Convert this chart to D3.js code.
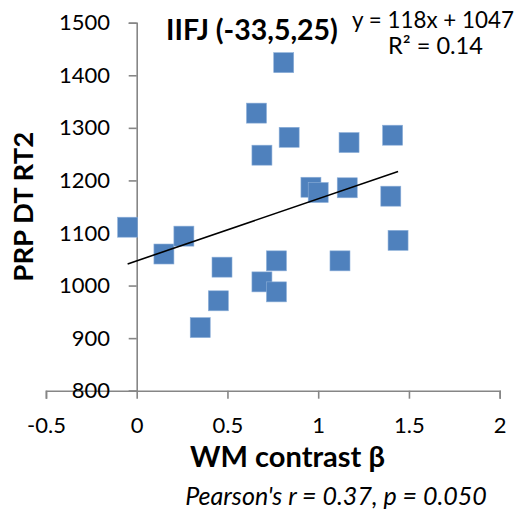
<!DOCTYPE html>
<html>
<head>
<meta charset="utf-8">
<script src="https://cdn.jsdelivr.net/npm/d3@7"></script>
<style>
  html, body { margin: 0; padding: 0; background: #fff; }
  svg { display: block; }
  text { font-family: Lato, "Open Sans", sans-serif; fill: #000; }
</style>
</head>
<body>
<svg id="chart" width="523" height="515"></svg>
<script>
// ---- data ----
const xValues = [-0.05, 0.15, 0.26, 0.35, 0.45, 0.47, 0.66, 0.69, 0.69, 0.77, 0.77, 0.81, 0.84, 0.96, 1.00, 1.12, 1.17, 1.16, 1.40, 1.41, 1.44];
const yValues = [1111, 1060, 1094, 920, 971, 1035, 1328, 1248, 1007, 988, 1047, 1424, 1282, 1187, 1177, 1047, 1272, 1186, 1170, 1286, 1086];
const xTicks = [-0.5, 0, 0.5, 1, 1.5, 2];
const yTicks = [800, 900, 1000, 1100, 1200, 1300, 1400, 1500];
const trendSlope = 118;
const trendIntercept = 1047;
const chartTitle = "IIFJ (-33,5,25)";
const equationText = "y = 118x + 1047";
const r2Text = "R² = 0.14";
const xTitle = "WM contrast β";
const yTitle = "PRP DT RT2";
const noteText = "Pearson's r = 0.37, p = 0.050";

// ---- layout ----
const svg = d3.select("#chart");
const x = d3.scaleLinear().domain([-0.5, 2]).range([45.95, 499.7]);
const y = d3.scaleLinear().domain([800, 1500]).range([390.7, 22.7]);
const axisColor = "#868686";

const gx = svg.append("g")
  .attr("transform", `translate(0,${y(800)})`)
  .call(d3.axisBottom(x).tickValues(xTicks).tickSize(8).tickPadding(18.7)
        .tickFormat(d => String(d)));
const gy = svg.append("g")
  .attr("transform", `translate(${x(0)},0)`)
  .call(d3.axisLeft(y).tickValues(yTicks).tickSize(8).tickPadding(18.7)
        .tickFormat(d => String(d)));

[gx, gy].forEach(g => {
  g.select(".domain").attr("stroke", axisColor).attr("stroke-width", 1.6);
  g.selectAll(".tick line").attr("stroke", axisColor).attr("stroke-width", 1.6);
  g.selectAll(".tick text").attr("font-size", 22).attr("font-family", "Lato, sans-serif").attr("fill", "#000");
});

// markers
const size = 20;
svg.append("g").selectAll("rect")
  .data(xValues.map((v, i) => [v, yValues[i]]))
  .join("rect")
  .attr("x", d => x(d[0]) - size / 2)
  .attr("y", d => y(d[1]) - size / 2)
  .attr("width", size).attr("height", size)
  .attr("fill", "#4F81BD")
  .attr("stroke", "#8eb0d9").attr("stroke-width", 0.6);

// trendline
const xMin = d3.min(xValues), xMax = d3.max(xValues);
svg.append("line")
  .attr("x1", x(xMin)).attr("y1", y(trendSlope * xMin + trendIntercept))
  .attr("x2", x(xMax)).attr("y2", y(trendSlope * xMax + trendIntercept))
  .attr("stroke", "#000").attr("stroke-width", 1.6);

// texts, font size fitted to the reference widths
function fit(sel, target, base) {
  sel.attr("font-size", base);
  const w = sel.node().getComputedTextLength();
  if (w > 0) sel.attr("font-size", base * target / w);
  return sel;
}
fit(svg.append("text").text(chartTitle)
  .attr("x", 252).attr("y", 39.5).attr("text-anchor", "middle")
  .attr("font-weight", "bold"), 172, 22);
fit(svg.append("text").text(equationText)
  .attr("x", 433).attr("y", 27.7).attr("text-anchor", "middle"), 162, 20);
fit(svg.append("text").text(r2Text)
  .attr("x", 435.5).attr("y", 53.5).attr("text-anchor", "middle"), 95, 20);
fit(svg.append("text").text(xTitle)
  .attr("x", 287.5).attr("y", 466.7).attr("text-anchor", "middle")
  .attr("font-weight", "bold"), 195, 27);
fit(svg.append("text").text(yTitle)
  .attr("transform", "translate(33,206.7) rotate(-90)").attr("text-anchor", "middle")
  .attr("font-weight", "bold"), 150, 26);
fit(svg.append("text").text(noteText)
  .attr("x", 336).attr("y", 505).attr("text-anchor", "middle")
  .attr("font-style", "italic"), 302, 19.5);
</script>
</body>
</html>
